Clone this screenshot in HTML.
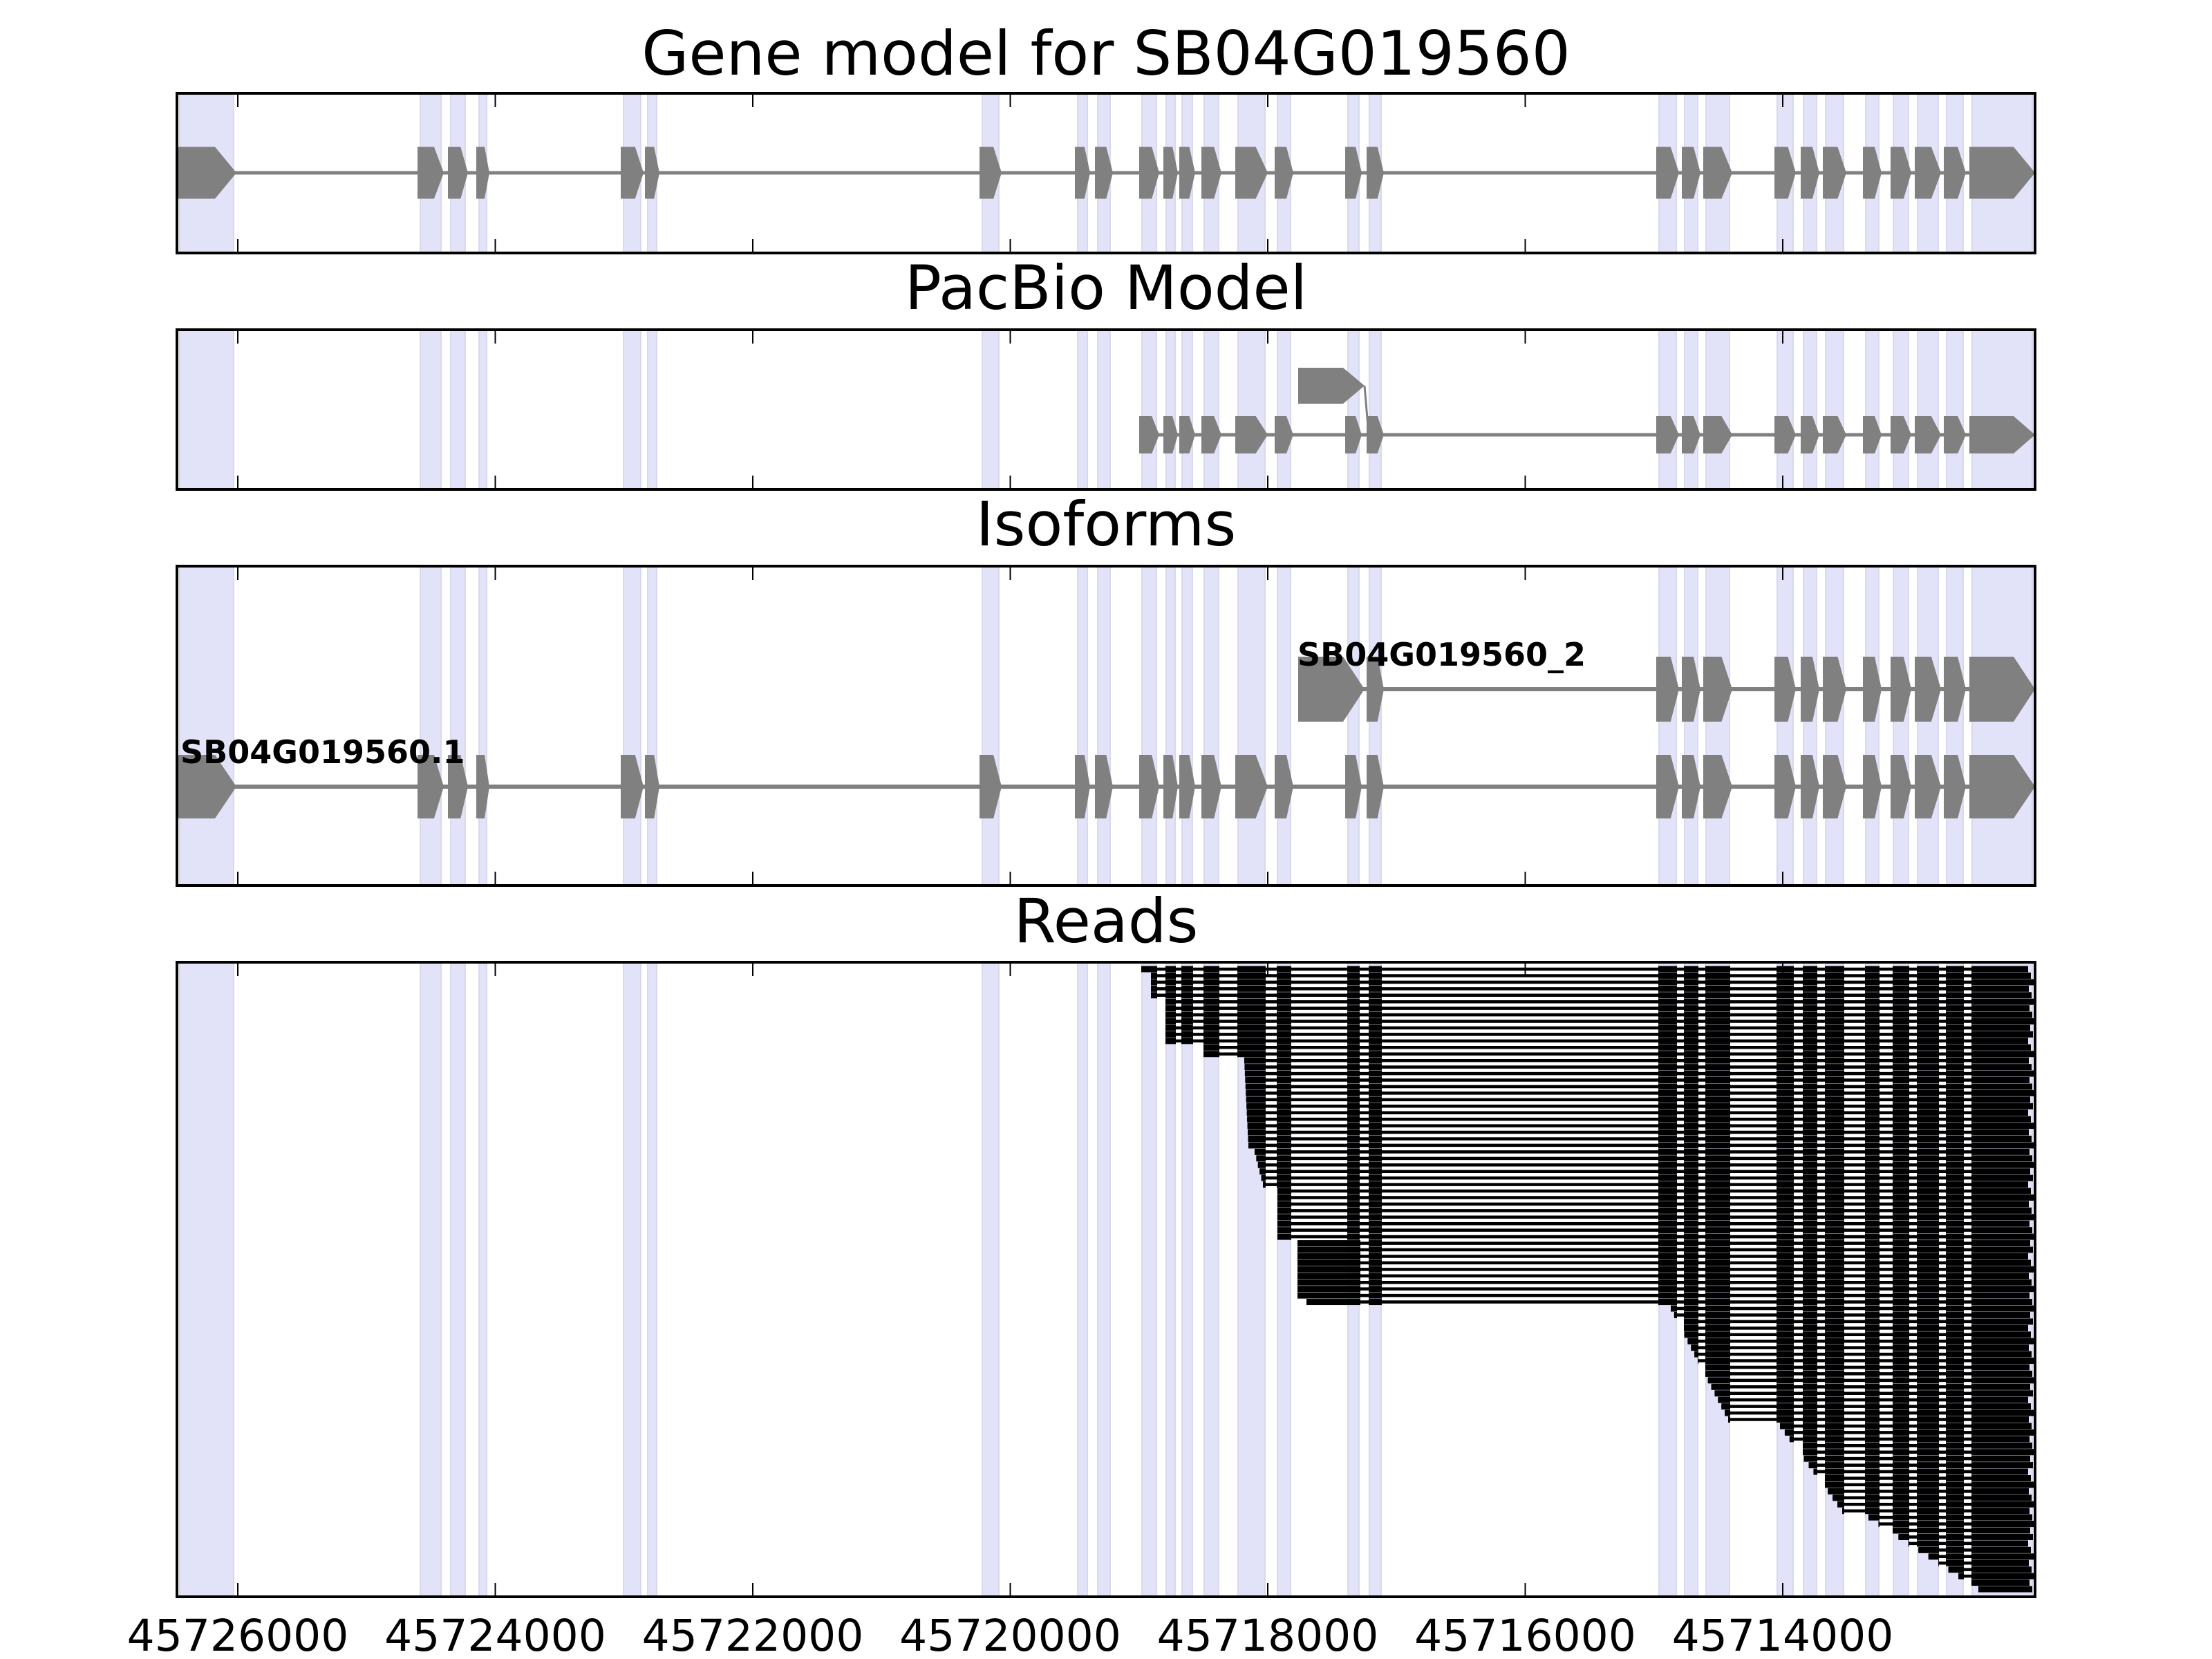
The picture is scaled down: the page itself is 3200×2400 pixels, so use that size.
<!DOCTYPE html>
<html><head><meta charset="utf-8"><style>
html,body{margin:0;padding:0;background:#fff;}
svg{display:block;}
text{font-family:"DejaVu Sans","Liberation Sans",sans-serif;}
</style></head><body>
<svg id="s" xmlns="http://www.w3.org/2000/svg" width="3200" height="2400" viewBox="0 0 3200 2400">
<rect width="3200" height="2400" fill="#fff"/>
<g id="shade"></g>
<g id="content"></g>
<g id="frames"></g>
<text x="1600" y="108" font-size="88" text-anchor="middle">Gene model for SB04G019560</text>
<text x="1600" y="447" font-size="88" text-anchor="middle">PacBio Model</text>
<text x="1600" y="789" font-size="88" text-anchor="middle">Isoforms</text>
<text x="1600" y="1363" font-size="88" text-anchor="middle">Reads</text>
<g id="labels" font-size="63" text-anchor="middle"></g>
<text x="261" y="1104" font-size="46" font-weight="bold">SB04G019560.1</text>
<text x="1877" y="963" font-size="46" font-weight="bold">SB04G019560_2</text>
</svg>
<script>
var NS="http://www.w3.org/2000/svg";
function el(p,t,a){var e=document.createElementNS(NS,t);for(var k in a)e.setAttribute(k,a[k]);p.appendChild(e);return e;}
var E=[[256,342],[604,642],[648,677],[689,708],[898,931],[933,954],[1417,1449],[1555,1577],[1584,1610],[1648,1677],[1683,1704],[1706,1729],[1738,1767],[1787,1834],[1844,1871],[1946,1970],[1977,2002],[2396,2429],[2433,2460],[2464,2506],[2567,2598],[2605,2632],[2637,2671],[2695,2722],[2735,2765],[2770,2808],[2812,2844],[2849,2944]];
var P=[[135,366],[477,708],[819,1281],[1392,2310]];
var L=256,R=2944;
var sh=document.getElementById('shade'),ct=document.getElementById('content'),fr=document.getElementById('frames'),lb=document.getElementById('labels');
P.forEach(function(p){
  E.forEach(function(e){
    el(sh,'rect',{x:e[0]+4,y:p[0],width:Math.max(2,e[1]-e[0]-8),height:p[1]-p[0],fill:'#e2e2f9',stroke:'#d8d8ee','stroke-width':2});
  });
});
function exon(s,e,cy,h){
  var w=e-s,pt=Math.min(31,0.37*w);
  var pts=[[s,cy-h/2],[e-pt,cy-h/2],[e,cy],[e-pt,cy+h/2],[s,cy+h/2]];
  el(ct,'polygon',{points:pts.map(function(q){return q.join(',')}).join(' '),fill:'#808080'});
}
function model(list,cy,h,lw){
  var a=list[0][0],b=list[list.length-1][1];
  el(ct,'line',{x1:a,y1:cy,x2:b,y2:cy,stroke:'#808080','stroke-width':lw});
  list.forEach(function(e){exon(e[0],e[1],cy,h);});
}
model(E,250,75,5);
model(E.slice(9),629,54,5);
exon(1878,1974,558,52);
el(ct,'line',{x1:1974,y1:558,x2:1980,y2:629,stroke:'#808080','stroke-width':3});
model(E,1138,92,6);
model([[1878,1974]].concat(E.slice(16)),997,94,6);
var starts=[];
function push(n,a,b){for(var i=0;i<n;i++)starts.push(n>1?a+(b-a)*i/(n-1):a);}
push(1,1651,1651);push(4,1665,1665);push(7,1686,1686);push(2,1741,1741);
push(14,1800,1806);push(6,1815,1827);push(8,1848,1848);
var altN=10;
push(18,2417,2500);push(14,2575,2665);push(12,2703,2862);
var rows=[];
for(var i=0;i<42;i++)rows.push({s:starts[i],alt:false});
for(var i=0;i<altN;i++)rows.push({s:i<altN-1?1877:1890,alt:true});
for(var i=42;i<starts.length;i++)rows.push({s:starts[i],alt:false});
var RE=E.map(function(e){return [e[0]+3,e[1]-3];});
var y0=1402,dy=(2299-1402)/(rows.length-1);
rows.forEach(function(r,i){
  var y=y0+i*dy;
  var endX=2934+((i*37)%11);
  var blocks=[];
  if(r.alt){blocks.push([r.s,1968]);RE.slice(16).forEach(function(e){blocks.push([e[0],e[1]]);});}
  else{RE.forEach(function(e){if(e[1]>r.s)blocks.push([Math.max(e[0],r.s),e[1]]);});}
  blocks[blocks.length-1][1]=endX;
  el(ct,'line',{x1:blocks[0][0],y1:y,x2:endX,y2:y,stroke:'#000','stroke-width':4.5});
  blocks.forEach(function(b){el(ct,'rect',{x:b[0],y:y-4.5,width:b[1]-b[0],height:9,fill:'#000'});});
});
var ticks=[],names=['45726000','45724000','45722000','45720000','45718000','45716000','45714000'];
for(var t=0;t<7;t++)ticks.push(344+t*372.5);
P.forEach(function(p){
  el(fr,'rect',{x:L,y:p[0],width:R-L,height:p[1]-p[0],fill:'none',stroke:'#000','stroke-width':4});
  ticks.forEach(function(x){
    el(fr,'line',{x1:x,y1:p[0],x2:x,y2:p[0]+20,stroke:'#000','stroke-width':2});
    el(fr,'line',{x1:x,y1:p[1],x2:x,y2:p[1]-20,stroke:'#000','stroke-width':2});
  });
});
ticks.forEach(function(x,i){var t=el(lb,'text',{x:x,y:2388});t.textContent=names[i];});
</script>
</body></html>
